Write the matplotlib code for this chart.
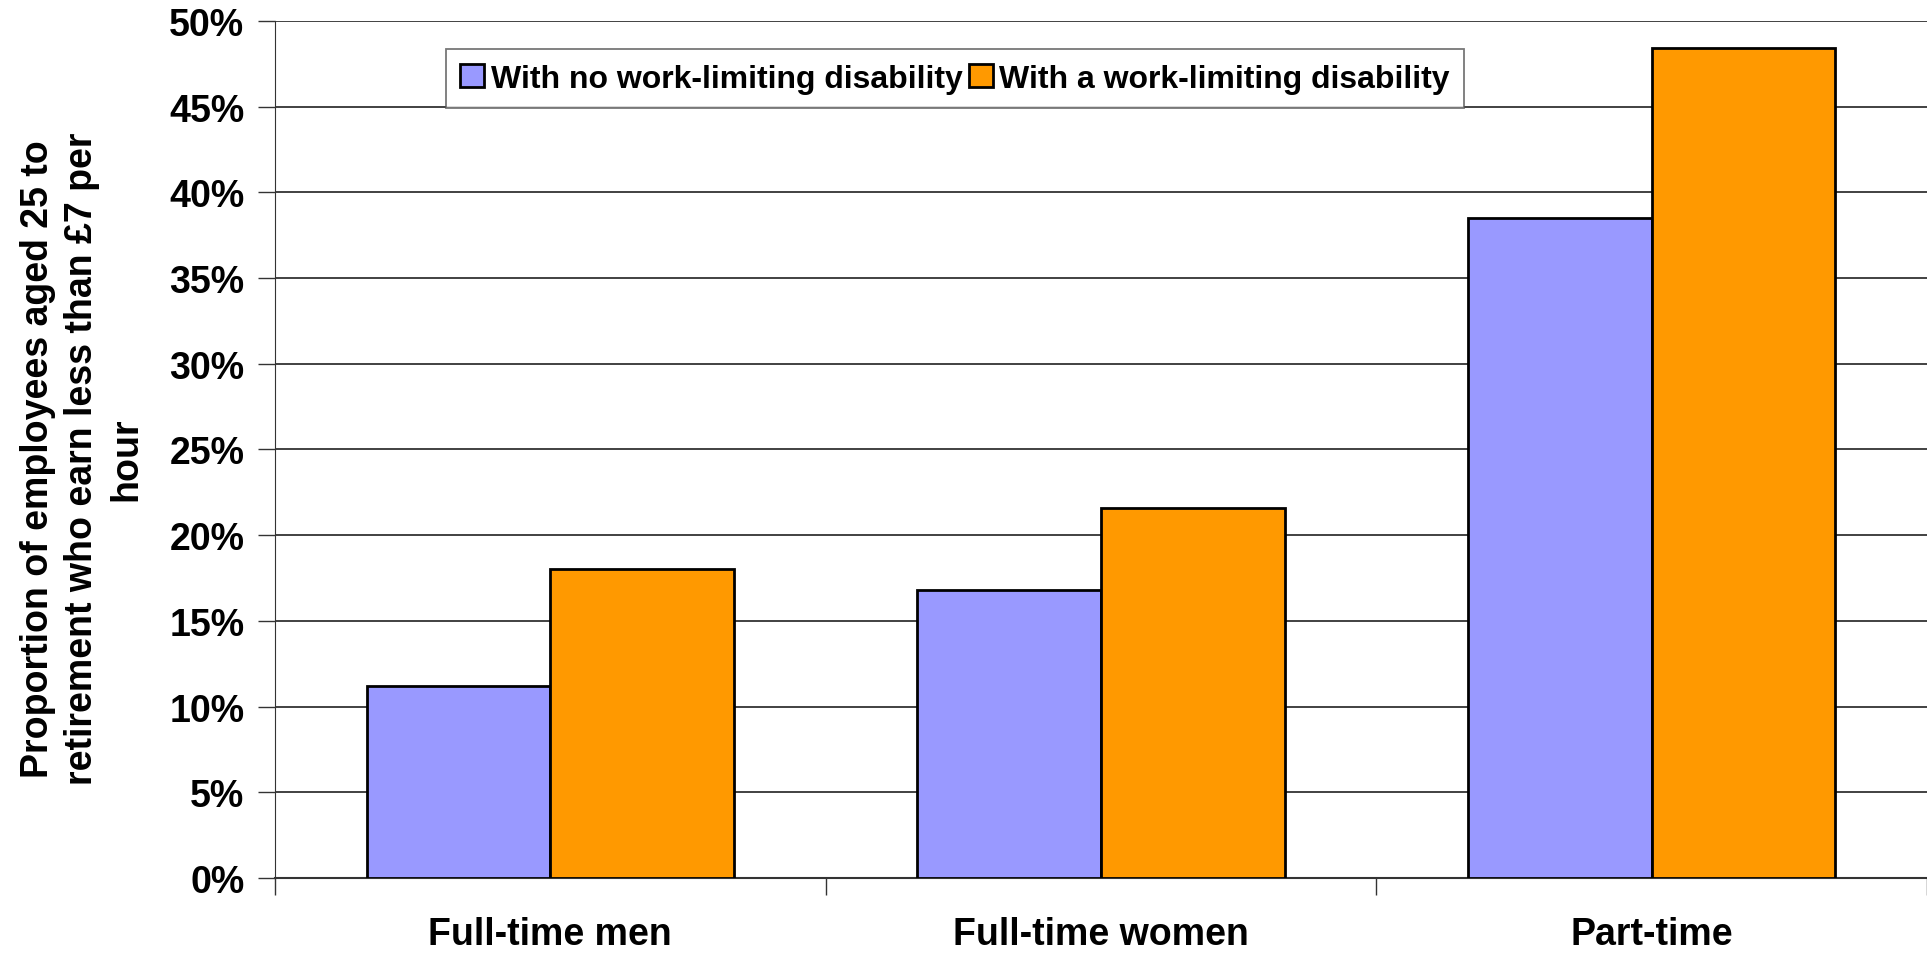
import numpy as np
import matplotlib
matplotlib.use("Agg")
import matplotlib.pyplot as plt
from matplotlib.ticker import FixedLocator, PercentFormatter

# --- data ---
categories = ["Full-time men", "Full-time women", "Part-time"]
no_disability = [11.2, 16.8, 38.5]
with_disability = [18.0, 21.6, 48.4]
series_labels = ["With no work-limiting disability", "With a work-limiting disability"]
y_ticks = [0, 5, 10, 15, 20, 25, 30, 35, 40, 45, 50]

plt.rcParams["font.family"] = ["Liberation Sans", "DejaVu Sans"]
plt.rcParams["font.weight"] = "bold"

fig = plt.figure(figsize=(19.27, 9.54), dpi=100)
ax = fig.add_axes([0.1427, 0.0786, 0.8573, 0.8984])

x = np.arange(len(categories)) + 0.5
w = 1 / 3
ax.bar(x - w / 2, no_disability, width=w, color="#9999ff", edgecolor="black",
       linewidth=2, label=series_labels[0], zorder=3)
ax.bar(x + w / 2, with_disability, width=w, color="#ff9900", edgecolor="black",
       linewidth=2, label=series_labels[1], zorder=3)

ax.set_xlim(0, len(categories))
ax.set_ylim(0, 50)
ax.set_yticks(y_ticks)
ax.yaxis.set_major_formatter(PercentFormatter(decimals=0))
ax.yaxis.grid(True, color="#333333", linewidth=1.3, zorder=0)

# x ticks at category boundaries, labels at centres
ax.xaxis.set_major_locator(FixedLocator(range(len(categories) + 1)))
ax.set_xticklabels([])
ax.xaxis.set_minor_locator(FixedLocator(x))
ax.set_xticklabels(categories, minor=True)
ax.tick_params(axis="x", which="major", length=12, width=1, color="#333333")
ax.tick_params(axis="x", which="minor", length=0, pad=27, labelsize=27)
ax.tick_params(axis="y", length=12, width=1, color="#333333", labelsize=27, pad=10)

for s in ["top", "right"]:
    ax.spines[s].set_visible(False)
ax.spines["left"].set_color("#333333")
ax.spines["bottom"].set_color("#333333")
ax.spines["bottom"].set_linewidth(1.5)

ax.set_ylabel("Proportion of employees aged 25 to\nretirement who earn less than £7 per\nhour",
              fontsize=27, fontweight="bold", linespacing=1.3)
ax.yaxis.set_label_coords(-0.079, 0.49)

leg = ax.legend(loc="upper left", bbox_to_anchor=(0.1035, 0.967), ncol=2,
                fontsize=23, frameon=True, fancybox=False, borderpad=0.45,
                handlelength=0.75, handleheight=0.75, handletextpad=0.2,
                columnspacing=0.2, borderaxespad=0)
leg.get_frame().set_edgecolor("#555555")
leg.get_frame().set_linewidth(1.3)
for t in leg.get_texts():
    t.set_fontweight("bold")

fig.savefig("out.png", dpi=100)
